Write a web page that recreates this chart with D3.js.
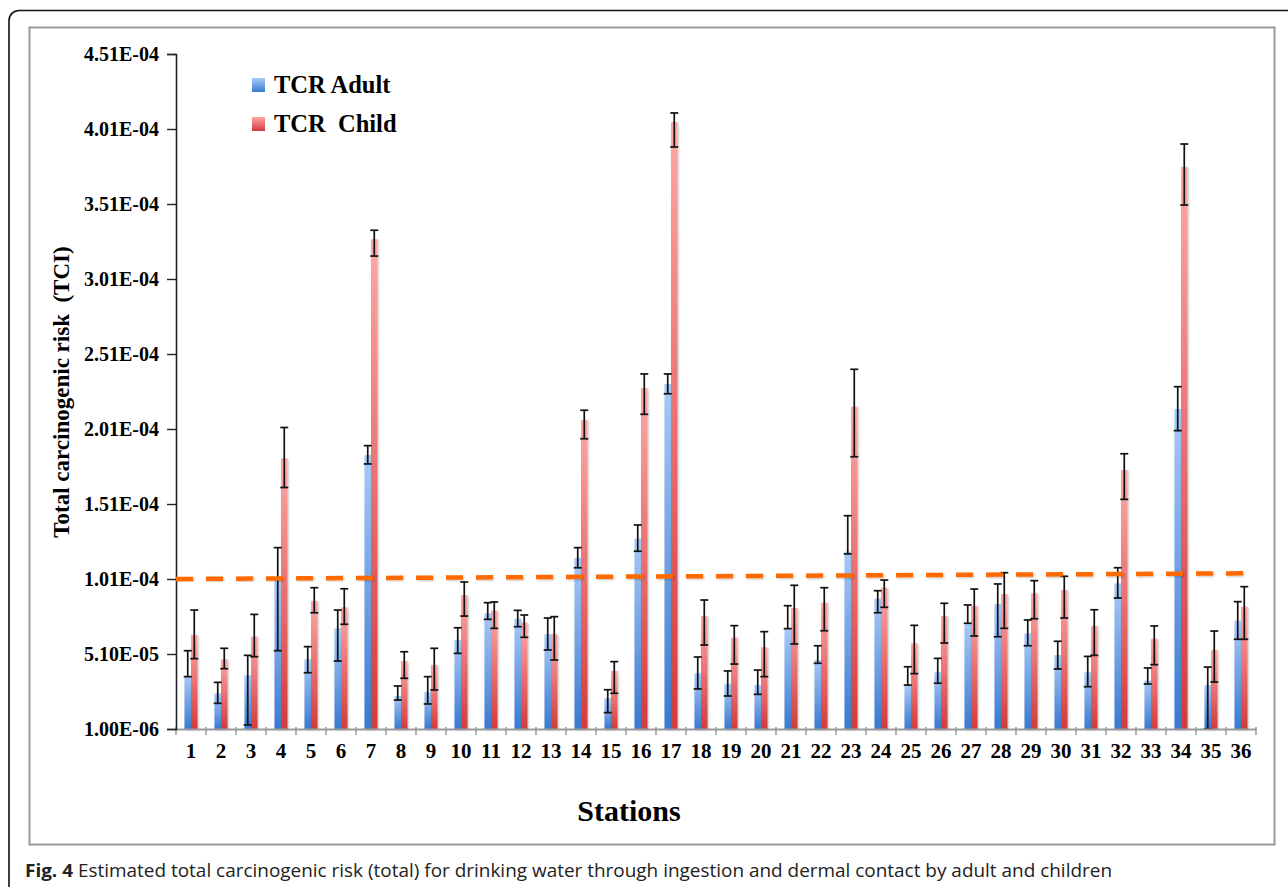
<!DOCTYPE html>
<html>
<head>
<meta charset="utf-8">
<script src="https://cdn.jsdelivr.net/npm/d3@7"></script>
<style>
  body { margin: 0; background: #fff; }
  svg text { white-space: pre; }
</style>
</head>
<body>
<div id="canvas"></div>
<script>
// values in units of 1E-06
var UNIT = 1e-6;

var stations = d3.range(1, 37).map(String);

var adult = [36.3, 24.8, 36.8, 100, 47.4, 68.1, 183.7, 23.0, 25.7, 60.3, 78.1, 74.5,
  64.3, 115.0, 21.5, 127.9, 231.0, 38.1, 31.2, 30.3, 67.9, 47.0, 119.2, 87.9,
  30.3, 38.8, 71.5, 84.3, 64.8, 50.3, 38.8, 98.1, 33.2, 214.3, 30.3, 73.2];
var adultLow = [35.9, 18.1, 3.7, 53.2, 38.5, 46.3, 177.7, 20.3, 17.7, 51.4, 74.1, 69.2,
  53.7, 108.5, 11.9, 119.5, 224.5, 27.7, 23.0, 24.1, 67.9, 44.8, 117.7, 78.5,
  30.3, 31.5, 71.5, 62.5, 56.5, 41.0, 29.2, 88.3, 31.0, 199.9, 1.0, 60.8];
var adultHigh = [53.2, 32.1, 50.1, 121.9, 55.9, 80.3, 189.9, 29.7, 35.9, 68.5, 85.2, 80.1,
  75.0, 121.9, 27.2, 137.0, 237.7, 49.0, 39.7, 40.3, 83.2, 56.5, 143.2, 93.2,
  42.5, 48.1, 83.7, 97.7, 73.7, 59.5, 49.4, 108.5, 41.7, 229.2, 42.3, 85.9];

var child = [63.7, 47.4, 62.6, 181.4, 86.3, 82.1, 327.5, 46.3, 43.7, 90.3, 79.9, 71.9,
  64.3, 207.0, 39.7, 228.3, 405.7, 76.3, 61.9, 55.5, 81.7, 85.2, 215.9, 95.2,
  58.1, 76.3, 83.0, 91.0, 91.5, 93.7, 69.7, 173.7, 61.2, 375.7, 53.7, 82.5];
var childLow = [47.9, 41.2, 49.2, 162.0, 78.5, 70.8, 316.3, 34.8, 27.0, 76.3, 68.1, 62.1,
  47.0, 194.5, 24.8, 210.8, 389.0, 57.0, 44.3, 35.9, 57.7, 66.5, 182.5, 82.1,
  37.9, 58.3, 63.0, 68.1, 74.5, 75.0, 50.1, 154.1, 43.9, 350.3, 32.3, 60.8];
var childHigh = [80.3, 54.8, 77.4, 202.0, 95.2, 94.5, 333.5, 52.5, 54.8, 99.0, 85.7, 77.0,
  75.9, 213.5, 45.9, 237.7, 411.7, 87.0, 69.9, 65.9, 96.8, 95.2, 240.8, 100.3,
  70.1, 84.8, 94.3, 105.2, 99.9, 102.8, 80.5, 184.5, 69.7, 391.0, 66.3, 95.9];

var yTickValues = [1.0, 51.0, 101, 151, 201, 251, 301, 351, 401, 451];
var yTickLabels = ["1.00E-06", "5.10E-05", "1.01E-04", "1.51E-04", "2.01E-04",
  "2.51E-04", "3.01E-04", "3.51E-04", "4.01E-04", "4.51E-04"];

// the dashed reference line (slightly tilted in the original)
var thresholdStart = 101.0;
var thresholdEnd = 104.8;

var seriesNames = ["TCR Adult", "TCR  Child"];
var serif = "'Liberation Serif', 'Times New Roman', serif";

function run() {
  var width = 1288,
    height = 887;

  var svg = d3
    .select("#canvas")
    .append("svg")
    .attr("width", width)
    .attr("height", height);

  var defs = svg.append("defs");
  var grads = [
    { id: "gBlue", top: "#a7caf8", bottom: "#3a79cf" },
    { id: "gRed", top: "#ffa6a6", bottom: "#d23b3b" }
  ];
  grads.forEach(function(g) {
    var lg = defs
      .append("linearGradient")
      .attr("id", g.id)
      .attr("x1", 0)
      .attr("y1", 0)
      .attr("x2", 0)
      .attr("y2", 1);
    lg.append("stop").attr("offset", "0%").attr("stop-color", g.top);
    lg.append("stop").attr("offset", "100%").attr("stop-color", g.bottom);
  });

  var shadow = defs.append("filter").attr("id", "soft").attr("x", "-50%").attr("y", "-50%").attr("width", "200%").attr("height", "200%");
  shadow.append("feDropShadow").attr("dx", 1).attr("dy", 1).attr("stdDeviation", 1).attr("flood-color", "#000").attr("flood-opacity", 0.25);

  // outer frame and chart box
  svg
    .append("rect")
    .attr("x", 9)
    .attr("y", 10.5)
    .attr("width", 1320)
    .attr("height", 920)
    .attr("rx", 10)
    .style("fill", "none")
    .style("stroke", "#111")
    .style("stroke-width", 1.6);

  svg
    .append("rect")
    .attr("x", 29.5)
    .attr("y", 27.5)
    .attr("width", 1245)
    .attr("height", 817)
    .style("fill", "#fff")
    .style("stroke", "#9a9a9a")
    .style("stroke-width", 2);

  var x0 = d3
    .scaleBand()
    .domain(stations)
    .range([176, 1256])
    .padding(0);

  var x1 = d3
    .scaleBand()
    .domain(["adult", "child"])
    .range([0, x0.bandwidth()])
    .paddingInner(0)
    .paddingOuter(1.3);

  var y = d3
    .scaleLinear()
    .domain([1.0, 451])
    .range([729, 54]);

  var rows = stations.map(function(s, i) {
    return [
      { st: s, key: "adult", v: adult[i], lo: adultLow[i], hi: adultHigh[i] },
      { st: s, key: "child", v: child[i], lo: childLow[i], hi: childHigh[i] }
    ];
  });

  // bars
  var groups = svg
    .append("g")
    .attr("class", "bars")
    .selectAll("g")
    .data(rows)
    .enter()
    .append("g")
    .attr("transform", function(d) {
      return "translate(" + x0(d[0].st) + ",0)";
    });

  groups
    .selectAll("rect")
    .data(function(d) {
      return d;
    })
    .enter()
    .append("rect")
    .attr("x", function(d) {
      return x1(d.key);
    })
    .attr("width", x1.bandwidth())
    .attr("y", function(d) {
      return y(d.v);
    })
    .attr("height", function(d) {
      return y(1.0) - y(d.v);
    })
    .attr("filter", "url(#soft)")
    .style("fill", function(d) {
      return d.key === "adult" ? "url(#gBlue)" : "url(#gRed)";
    });

  // x axis (gray) with ticks between stations
  var xAxis = svg
    .append("g")
    .attr("transform", "translate(0," + y(1.0) + ")")
    .call(d3.axisBottom(x0).tickSize(0).tickPadding(14));
  xAxis.select(".domain").style("stroke", "#9a9a9a").style("stroke-width", 2);
  xAxis
    .selectAll("text")
    .style("font-family", serif)
    .style("font-weight", "bold")
    .style("font-size", "21px")
    .style("fill", "#000");

  var boundaries = stations.map(function(s) {
    return x0(s);
  });
  boundaries.push(x0.range()[1]);
  svg
    .append("g")
    .selectAll("line")
    .data(boundaries)
    .enter()
    .append("line")
    .attr("x1", function(d) {
      return d;
    })
    .attr("x2", function(d) {
      return d;
    })
    .attr("y1", y(1.0) - 2)
    .attr("y2", y(1.0) + 6)
    .style("stroke", "#9a9a9a")
    .style("stroke-width", 1.5);

  // y axis
  var yAxis = svg
    .append("g")
    .attr("transform", "translate(176,0)")
    .call(
      d3
        .axisLeft(y)
        .tickValues(yTickValues)
        .tickSize(9)
        .tickPadding(8)
        .tickFormat(function(d, i) {
          return yTickLabels[i];
        })
    );
  yAxis.select(".domain").style("stroke", "#222").style("stroke-width", 1.6);
  yAxis.selectAll("line").style("stroke", "#222").style("stroke-width", 1.4);
  yAxis
    .selectAll("text")
    .style("font-family", serif)
    .style("font-weight", "bold")
    .style("font-size", "20px")
    .style("fill", "#000");

  // error bars
  var err = groups
    .selectAll("g.err")
    .data(function(d) {
      return d;
    })
    .enter()
    .append("g")
    .attr("class", "err")
    .style("stroke", "#111")
    .style("stroke-width", 1.7);

  var cx = function(d) {
    return x1(d.key) + x1.bandwidth() / 2;
  };
  err
    .append("line")
    .attr("x1", cx)
    .attr("x2", cx)
    .attr("y1", function(d) {
      return y(d.lo);
    })
    .attr("y2", function(d) {
      return y(d.hi);
    });
  ["lo", "hi"].forEach(function(k) {
    err
      .append("line")
      .attr("x1", function(d) {
        return cx(d) - 4;
      })
      .attr("x2", function(d) {
        return cx(d) + 4;
      })
      .attr("y1", function(d) {
        return y(d[k]);
      })
      .attr("y2", function(d) {
        return y(d[k]);
      });
  });

  // dashed reference line
  var lastStation = stations[stations.length - 1];
  svg
    .append("line")
    .attr("x1", x0.range()[0])
    .attr("x2", x0(lastStation) + x1("child") + x1.bandwidth() + 2)
    .attr("y1", y(thresholdStart))
    .attr("y2", y(thresholdEnd))
    .attr("filter", "url(#soft)")
    .style("stroke", "#ff6a00")
    .style("stroke-width", 4.5)
    .style("stroke-dasharray", "17,13");

  // legend
  var legend = svg
    .append("g")
    .selectAll("g")
    .data(seriesNames)
    .enter()
    .append("g")
    .attr("transform", function(d, i) {
      return "translate(252," + (78 + i * 39) + ")";
    });
  legend
    .append("rect")
    .attr("width", 13)
    .attr("height", 14)
    .style("fill", function(d, i) {
      return i === 0 ? "url(#gBlue)" : "url(#gRed)";
    });
  legend
    .append("text")
    .attr("x", 22)
    .attr("y", 14.5)
    .style("font-family", serif)
    .style("font-weight", "bold")
    .style("font-size", "24.5px")
    .text(function(d) {
      return d;
    });

  // axis titles
  svg
    .append("text")
    .attr("transform", "translate(69,392) rotate(-90)")
    .attr("text-anchor", "middle")
    .style("font-family", serif)
    .style("font-weight", "bold")
    .style("font-size", "23px")
    .text("Total carcinogenic risk  (TCI)");

  svg
    .append("text")
    .attr("x", 629)
    .attr("y", 821)
    .attr("text-anchor", "middle")
    .style("font-family", serif)
    .style("font-weight", "bold")
    .style("font-size", "30px")
    .text("Stations");

  // caption
  var cap = svg
    .append("text")
    .attr("x", 25)
    .attr("y", 877)
    .attr("textLength", 1087)
    .attr("lengthAdjust", "spacingAndGlyphs")
    .style("font-family", "'Open Sans', sans-serif")
    .style("font-size", "18px")
    .style("fill", "#222");
  cap
    .append("tspan")
    .style("font-weight", "bold")
    .text("Fig. 4");
  cap
    .append("tspan")
    .text(" Estimated total carcinogenic risk (total) for drinking water through ingestion and dermal contact by adult and children");
}

(function() {
  run();
})();
</script>
</body>
</html>
